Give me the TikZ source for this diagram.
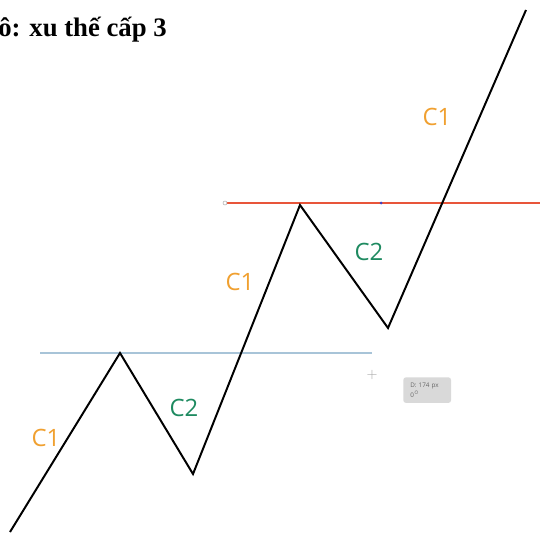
\documentclass[tikz,border=0pt]{standalone}
\usepackage{fontspec}
\setmainfont{Liberation Serif}
\setsansfont{Open Sans}
\usepackage{xcolor}
\usetikzlibrary{positioning}
\definecolor{wavec1}{HTML}{F0A030}
\definecolor{wavec2}{HTML}{1E8A60}
\definecolor{levelred}{HTML}{E8553A}
\definecolor{levelblue}{HTML}{A8C4D8}

\begin{document}
\begin{tikzpicture}[x=0.025cm, y=-0.025cm,
  wave/.style={line width=1.4pt, line join=miter},
  lbl/.style={font=\sffamily\fontsize{17}{19}\selectfont, inner sep=1pt},
  level/.style={line width=1.1pt}]
\useasboundingbox (0,0) rectangle (540,540);
% swing points
\coordinate (s0) at (10,532);
\coordinate (p1) at (120,353);
\coordinate (t1) at (193,474);
\coordinate (p2) at (300,205);
\coordinate (t2) at (388,328);
\coordinate (s5) at (526,10);
% levels
\coordinate (bl) at (40,353);
\coordinate (br) at (372,353);
\coordinate (rl) at (225,203);
\coordinate (rr) at (540,203);
\draw[level, levelblue] (bl) -- (br);
\draw[level, levelred] (rl) -- (rr);
\fill[blue!50!gray] (381,203) circle (1.5);
\fill[white] (rl) circle (2); \draw[gray!60, thin] (rl) circle (2);
% the wave
\draw[wave] (s0) -- (p1) -- (t1) -- (p2) -- (t2) -- (s5);
% wave labels
\node[lbl, text=wavec1] (c1a) at (46,438) {C1};
\node[lbl, text=wavec2] (c2a) at (184,408) {C2};
\node[lbl, text=wavec1] (c1b) at (240,282) {C1};
\node[lbl, text=wavec2] (c2b) at (369,252) {C2};
\node[lbl, text=wavec1] (c1c) at (437,117) {C1};
% title
\node[anchor=west, font=\bfseries\fontsize{19}{21}\selectfont, inner sep=0pt]
  (title) at (-2,30) {ô: xu thế cấp 3};
% measuring cursor
\node[font=\fontsize{10}{10}\selectfont, text=gray!70, inner sep=0pt] (cur) at (372,375) {$+$};
\node[fill=gray!30, rounded corners=2pt, align=left,
  font=\sffamily\fontsize{4.5}{7}\selectfont, text=gray!80!black,
  inner xsep=5pt, inner ysep=4pt, text width=24, anchor=north west]
  (meas) at (403,377) {D: 174 px\\0$^\circ$};
\end{tikzpicture}
\end{document}
